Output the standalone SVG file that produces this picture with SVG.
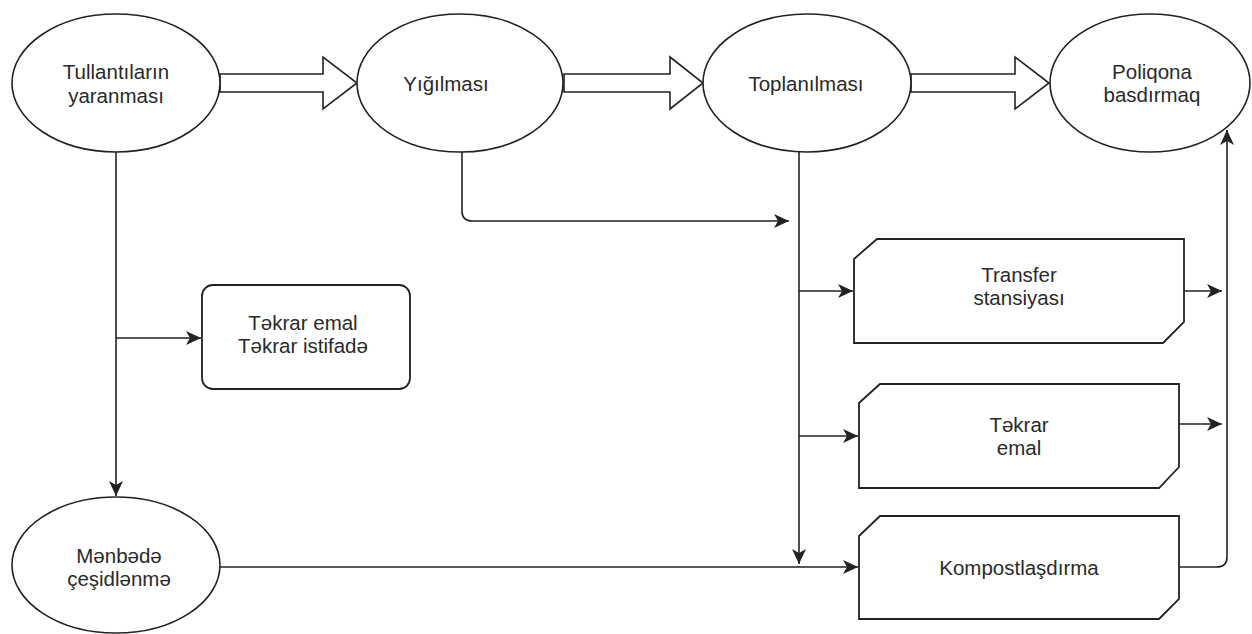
<svg xmlns="http://www.w3.org/2000/svg" width="1252" height="634" viewBox="0 0 1252 634">
<style>
.shape{fill:#fff;stroke:#222;stroke-width:1.6}
.box{fill:#fff;stroke:#222;stroke-width:1.8}
.conn{fill:none;stroke:#222;stroke-width:1.6}
.barrow{fill:#fff;stroke:#222;stroke-width:1.6;stroke-linejoin:miter}
text{font-family:"Liberation Sans",Arial,sans-serif;font-size:20.5px;fill:#2a2a2a;text-anchor:middle}
</style>
<defs>
<marker id="ah" markerUnits="userSpaceOnUse" markerWidth="16" markerHeight="14" refX="15" refY="7" orient="auto">
<path d="M0,0 L15,7 L0,14 L4,7 z" fill="#222"/>
</marker>
</defs>
<rect width="1252" height="634" fill="#fff"/>
<g id="connectors">
<polygon class="barrow" points="220,74 323,74 323,57 357,83 323,109 323,92 220,92"/>
<polygon class="barrow" points="564,74 670,74 670,57 703,83 670,109 670,92 564,92"/>
<polygon class="barrow" points="911,74 1015,74 1015,57 1049,83 1015,109 1015,92 911,92"/>
<path class="conn" d="M116,152 V496" marker-end="url(#ah)"/>
<path class="conn" d="M116,338 H201" marker-end="url(#ah)"/>
<path class="conn" d="M462,152 V211 Q462,221 472,221 H789" marker-end="url(#ah)"/>
<path class="conn" d="M799,152 V564" marker-end="url(#ah)"/>
<path class="conn" d="M799,291 H853" marker-end="url(#ah)"/>
<path class="conn" d="M799,436 H858" marker-end="url(#ah)"/>
<path class="conn" d="M220,567 H858" marker-end="url(#ah)"/>
<path class="conn" d="M1184,291 H1222" marker-end="url(#ah)"/>
<path class="conn" d="M1179,424 H1222" marker-end="url(#ah)"/>
<path class="conn" d="M1179,567 H1217 Q1227,567 1227,557 V130" marker-end="url(#ah)"/>
</g>
<g id="tullantilar">
<ellipse class="shape" cx="116" cy="83" rx="104" ry="69"/>
<text x="116" y="79">Tullantıların</text>
<text x="116" y="103">yaranması</text>
</g>
<g id="yigilmasi">
<ellipse class="shape" cx="460" cy="83" rx="103" ry="69"/>
<text x="446" y="91">Yığılması</text>
</g>
<g id="toplanilmasi">
<ellipse class="shape" cx="807" cy="83" rx="104" ry="69"/>
<text x="806" y="91">Toplanılması</text>
</g>
<g id="poliqona">
<ellipse class="shape" cx="1150" cy="83" rx="100" ry="69"/>
<text x="1152" y="79">Poliqona</text>
<text x="1152" y="102">basdırmaq</text>
</g>
<g id="tekrar-istifade">
<rect class="box" x="202" y="285" width="208" height="104" rx="11" ry="11"/>
<text x="303" y="330">Təkrar emal</text>
<text x="303" y="353">Təkrar istifadə</text>
</g>
<g id="menbede">
<ellipse class="shape" cx="116" cy="565" rx="104" ry="68"/>
<text x="119" y="563">Mənbədə</text>
<text x="119" y="586">çeşidlənmə</text>
</g>
<g id="transfer">
<path class="box" stroke-width="2.2" d="M877,239 H1184 V322 L1163,343 H854 V259 Z"/>
<text x="1019" y="282">Transfer</text>
<text x="1019" y="305">stansiyası</text>
</g>
<g id="tekrar-emal">
<path class="box" d="M880,384 H1179 V467 L1159,488 H859 V403 Z"/>
<text x="1019" y="432">Təkrar</text>
<text x="1019" y="455">emal</text>
</g>
<g id="kompost">
<path class="box" d="M880,516 H1179 V599 L1159,619 H859 V536 Z"/>
<text x="1019" y="575">Kompostlaşdırma</text>
</g>
</svg>
